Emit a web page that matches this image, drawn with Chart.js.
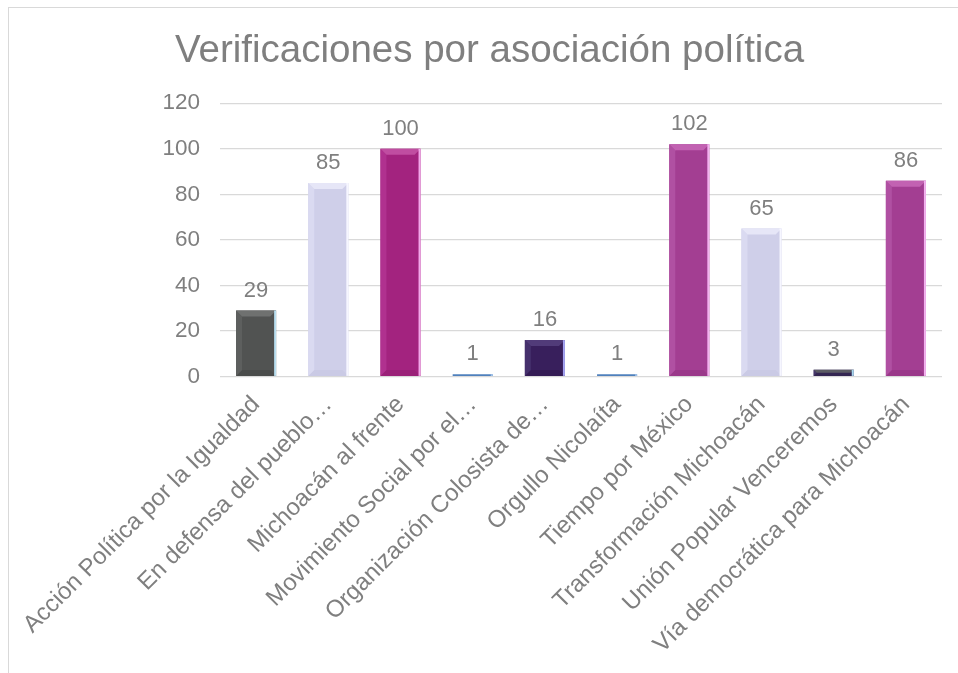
<!DOCTYPE html>
<html>
<head>
<meta charset="utf-8">
<script src="https://cdn.jsdelivr.net/npm/chart.js@4.4.0/dist/chart.umd.min.js"></script>
<style>
    html, body { margin: 0; padding: 0; background: #fff; overflow: hidden; }
    #frame {
        position: absolute; left: 8px; top: 7px; width: 980px; height: 700px;
        border: 1px solid #d9d9d9; box-sizing: border-box;
    }
    #wrap { position: absolute; left: 9px; top: 8px; width: 961px; height: 665px; }
</style>
</head>
<body>
<div id="frame"></div>
<div id="wrap"><canvas id="barChart"></canvas></div>
<script>
    // Data
    const categories = [
        'Acción Política por la Igualdad',
        'En defensa del pueblo…',
        'Michoacán al frente',
        'Movimiento Social por el…',
        'Organización Colosista de…',
        'Orgullo Nicolaíta',
        'Tiempo por México',
        'Transformación Michoacán',
        'Unión Popular Venceremos',
        'Vía democrática para Michoacán'
    ];
    const verificaciones = [29, 85, 100, 1, 16, 1, 102, 65, 3, 86];
    const yTicks = [0, 20, 40, 60, 80, 100, 120];

    // Bar colours: [fill, top bevel, left bevel, right edge, bottom bevel]
    const barStyles = [
        ['#515352', '#6f7170', '#5d5f5e', '#b9dff0', '#4a4c4b'],  // dark gray
        ['#cfcfe9', '#e6e6f7', '#dadaf1', '#f6f6ff', '#cacae5'],  // lavender
        ['#a3237f', '#c04da1', '#b0318f', '#f2a8ea', '#9a2078'],  // magenta
        ['#4f81bd', '#8ab0dd', '#6a96cc', '#a8c8ee', '#4676b0'],  // blue
        ['#381f5c', '#513b79', '#45306c', '#a4a4f2', '#331b54'],  // dark purple
        ['#4f81bd', '#8ab0dd', '#6a96cc', '#a8c8ee', '#4676b0'],  // blue
        ['#a33e92', '#c262b2', '#b050a2', '#f2b2ee', '#9a388a'],  // magenta light
        ['#cfcfe9', '#e6e6f7', '#dadaf1', '#f6f6ff', '#cacae5'],  // lavender
        ['#3a2b5c', '#5b5b63', '#46386a', '#a8d8f0', '#342652'],  // purple/gray
        ['#a33e92', '#c262b2', '#b050a2', '#f2b2ee', '#9a388a']   // magenta light
    ];

    const textGray = '#7f7f7f';
    const fontFamily = '"Liberation Sans", Arial, sans-serif';

    // Bevel look + value labels
    const bevelPlugin = {
        id: 'bevel',
        afterDatasetsDraw(chart) {
            const ctx = chart.ctx;
            const meta = chart.getDatasetMeta(0);
            meta.data.forEach((bar, i) => {
                const st = barStyles[i];
                const l = bar.x - bar.width / 2;
                const r = bar.x + bar.width / 2;
                const t = bar.y;
                const b = bar.base;
                const h = b - t;
                const bv = Math.min(6, h / 2);
                ctx.save();
                if (bv > 1) {
                    // bottom
                    ctx.fillStyle = st[4];
                    ctx.beginPath();
                    ctx.moveTo(l, b); ctx.lineTo(l + bv, b - bv); ctx.lineTo(r - bv, b - bv); ctx.lineTo(r, b);
                    ctx.closePath(); ctx.fill();
                    // left
                    ctx.fillStyle = st[2];
                    ctx.beginPath();
                    ctx.moveTo(l, t); ctx.lineTo(l + bv, t + bv); ctx.lineTo(l + bv, b - bv); ctx.lineTo(l, b);
                    ctx.closePath(); ctx.fill();
                    // top
                    ctx.fillStyle = st[1];
                    ctx.beginPath();
                    ctx.moveTo(l, t); ctx.lineTo(r, t); ctx.lineTo(r - bv, t + bv); ctx.lineTo(l + bv, t + bv);
                    ctx.closePath(); ctx.fill();
                }
                // right edge highlight
                ctx.fillStyle = st[3];
                ctx.fillRect(r - 2, t, 2, h);
                ctx.restore();

                // value label
                ctx.save();
                ctx.fillStyle = textGray;
                ctx.font = '22px ' + fontFamily;
                ctx.textAlign = 'center';
                ctx.textBaseline = 'bottom';
                ctx.fillText(String(verificaciones[i]), bar.x, t - 9);
                ctx.restore();
            });
        }
    };

    const data = {
        labels: categories,
        datasets: [{
            label: 'Verificaciones',
            data: verificaciones,
            backgroundColor: barStyles.map(s => s[0]),
            borderWidth: 0,
            barPercentage: 0.555,
            categoryPercentage: 1.0
        }]
    };

    const config = {
        type: 'bar',
        data: data,
        options: {
            responsive: true,
            maintainAspectRatio: false,
            animation: false,
            layout: {
                padding: { left: 28, right: 28, top: 0, bottom: 8 }
            },
            plugins: {
                legend: { display: false },
                tooltip: { enabled: false },
                title: {
                    display: true,
                    text: 'Verificaciones por asociación política',
                    color: textGray,
                    font: { family: fontFamily, size: 38.5, weight: 'normal', lineHeight: 1.2 },
                    padding: { top: 20, bottom: 29 }
                }
            },
            scales: {
                x: {
                    grid: { display: false },
                    border: { display: false },
                    ticks: {
                        color: textGray,
                        font: { family: fontFamily, size: 24 },
                        autoSkip: false,
                        minRotation: 45,
                        maxRotation: 45,
                        padding: 6
                    },
                    afterFit: axis => { axis.paddingLeft = 0; axis.paddingRight = 0; }
                },
                y: {
                    min: 0,
                    max: 120,
                    afterBuildTicks: axis => { axis.ticks = yTicks.map(v => ({ value: v })); },
                    afterFit: axis => { axis.width = 183; },
                    grid: { color: '#d9d9d9', lineWidth: 1.3, drawTicks: false },
                    border: { display: false },
                    ticks: {
                        color: textGray,
                        font: { family: fontFamily, size: 22.5 },
                        padding: 20
                    }
                }
            }
        },
        plugins: [bevelPlugin]
    };

    const barChart = new Chart(document.getElementById('barChart'), config);
</script>
</body>
</html>
